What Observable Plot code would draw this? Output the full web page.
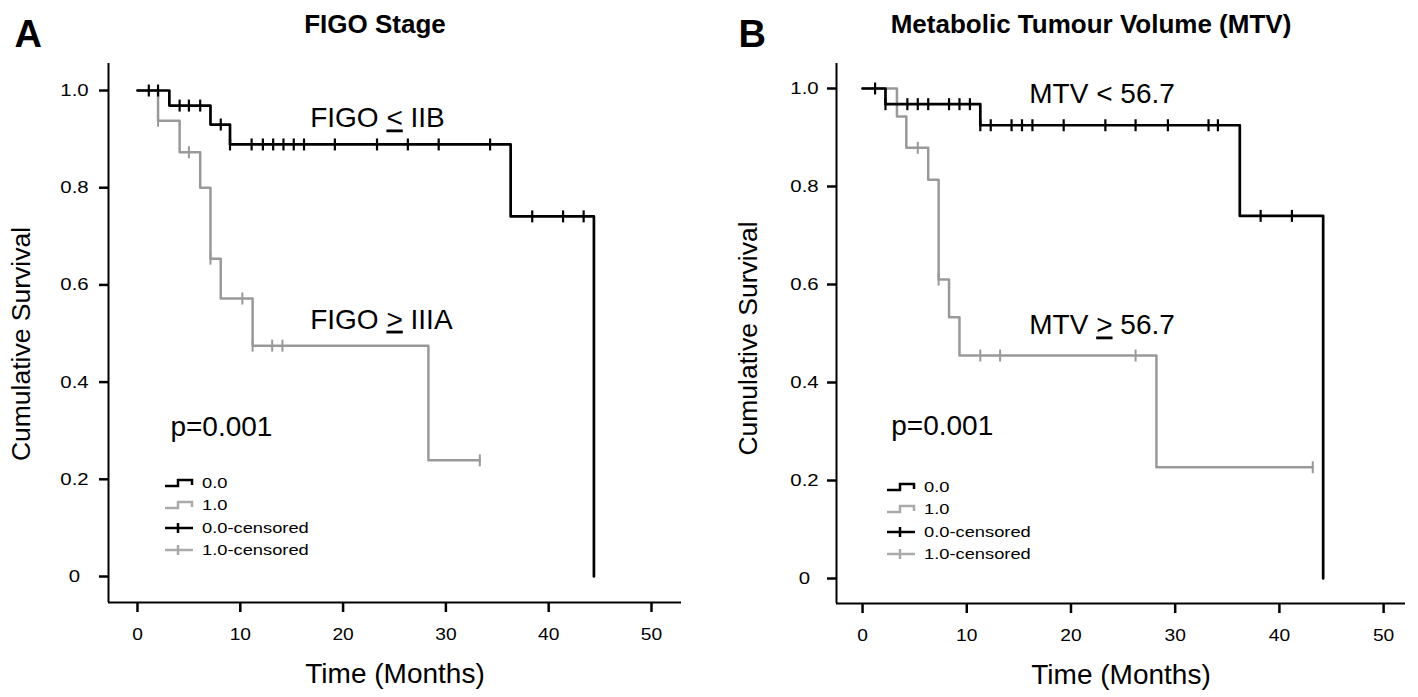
<!DOCTYPE html>
<html>
<head>
<meta charset="utf-8">
<script src="https://cdn.jsdelivr.net/npm/d3@7"></script>
<script src="https://cdn.jsdelivr.net/npm/@observablehq/plot@0.6"></script>
<style>
  html, body { margin: 0; padding: 0; background: #fff; }
  #wrap { position: relative; width: 1418px; height: 697px; display: flex; overflow: hidden; }
  .panel { position: relative; width: 709px; height: 697px; }
  .legend { position: absolute; font-family: "Liberation Sans", Arial, sans-serif; font-size: 15.5px; color: #000; }
  .legend .row { position: absolute; left: 0; height: 22px; display: flex; align-items: center; white-space: nowrap; }
  .legend .row span { display: inline-block; transform: scaleX(1.18); transform-origin: left center; margin-left: 9px; }
</style>
</head>
<body>
<div id="wrap"></div>
<script>
// ---------- data ----------
const timeTicks = [0, 10, 20, 30, 40, 50];
const survivalTicks = [0, 0.2, 0.4, 0.6, 0.8, 1.0];
const groupNames = ["0.0", "1.0"];
const legendLabels = ["0.0", "1.0", "0.0-censored", "1.0-censored"];
const panelLetters = ["A", "B"];
const panelTitles = ["FIGO Stage", "Metabolic Tumour Volume (MTV)"];
const xTitle = "Time (Months)";
const yTitle = "Cumulative Survival";

// Panel A: FIGO stage
const figoLowTime = [0, 3.1, 7.1, 9.0, 36.3, 44.4];
const figoLowSurv = [1.0, 0.969, 0.930, 0.889, 0.741, 0];
const figoLowCensor = [1.1, 2.0, 4.1, 5.0, 6.1, 8.1, 9.0, 11.1, 12.2, 13.2, 14.2, 15.2, 16.2, 19.2, 23.3, 26.3, 29.3, 34.3, 38.4, 41.4, 43.4];
const figoHighTime = [0, 2.0, 4.1, 6.1, 7.1, 8.1, 11.2, 28.3];
const figoHighSurv = [1.0, 0.938, 0.873, 0.800, 0.654, 0.572, 0.475, 0.239];
const figoHighCensor = [2.0, 5.0, 7.1, 10.2, 11.2, 13.1, 14.1, 33.3];
const figoLabels = ["FIGO ≤ IIB", "FIGO ≥ IIIA"];

// Panel B: metabolic tumour volume
const mtvLowTime = [0, 2.2, 11.3, 36.2, 44.2];
const mtvLowSurv = [1.0, 0.968, 0.925, 0.740, 0];
const mtvLowCensor = [1.2, 2.2, 4.3, 5.3, 6.3, 8.3, 9.3, 10.3, 11.3, 12.3, 14.3, 15.3, 16.3, 19.3, 23.3, 26.2, 29.3, 33.2, 34.1, 38.2, 41.2];
const mtvHighTime = [0, 3.3, 4.2, 6.3, 7.3, 8.3, 9.3, 28.2];
const mtvHighSurv = [1.0, 0.943, 0.879, 0.814, 0.610, 0.533, 0.455, 0.227];
const mtvHighCensor = [5.3, 7.3, 11.3, 13.2, 26.2, 43.2];
const mtvLabels = ["MTV < 56.7", "MTV ≥ 56.7"];

const pValueText = "p=0.001";

// ---------- helpers ----------
const colors = {"0.0": "#000000", "1.0": "#999999"};

function stepSeries(times, surv, censors, group) {
  const pts = times.map((t, i) => ({time: t, survival: surv[i], group}));
  const lastEvent = times[times.length - 1];
  const lastCensor = d3.max(censors);
  if (lastCensor > lastEvent) pts.push({time: lastCensor, survival: surv[surv.length - 1], group});
  return pts;
}
function censorPoints(times, surv, censors, group) {
  return censors.map(c => {
    let s = surv[0];
    for (let i = 0; i < times.length; i++) if (times[i] <= c + 1e-9) s = surv[i];
    return {time: c, survival: s, group};
  });
}
const censorSymbol = {
  draw(ctx, size) {
    const r = Math.sqrt(size / Math.PI);
    ctx.moveTo(0, -r);
    ctx.lineTo(0, r);
  }
};

const panels = [
  {
    letter: panelLetters[0], title: panelTitles[0],
    low: [figoLowTime, figoLowSurv, figoLowCensor],
    high: [figoHighTime, figoHighSurv, figoHighCensor],
    labels: figoLabels,
    layout: {
      ml: 108, mr: 28, mt: 63, mb: 95,
      xDomain: [-2.82, 52.92], yDomain: [-0.0535, 1.0556],
      labelPos: [[16.8, 0.924], [16.8, 0.510]], pPos: [3.2, 0.290],
      titleDx: -20, letterDx: -94, yTitleDx: -87, yTitleDy: 11,
      yTickDist: 34,
      legend: {left: 165, top: 472}
    }
  },
  {
    letter: panelLetters[1], title: panelTitles[1],
    low: [mtvLowTime, mtvLowSurv, mtvLowCensor],
    high: [mtvHighTime, mtvHighSurv, mtvHighCensor],
    labels: mtvLabels,
    layout: {
      ml: 127, mr: 13, mt: 63, mb: 94,
      xDomain: [-2.5, 52.1], yDomain: [-0.051, 1.051],
      labelPos: [[16.0, 0.970], [16.0, 0.498]], pPos: [2.75, 0.292],
      titleDx: -30, letterDx: -98, yTitleDx: -88, yTitleDy: 5,
      yTickDist: 32,
      legend: {left: 178, top: 476}
    }
  }
];

const FONT = "'Liberation Sans', Arial, Helvetica, sans-serif";
const NARROW = "'Liberation Sans Narrow', 'Arial Narrow', 'Liberation Sans', sans-serif";

function makePanel(p) {
  const L = p.layout;
  const lowLine = stepSeries(...p.low, groupNames[0]);
  const highLine = stepSeries(...p.high, groupNames[1]);
  const lowCens = censorPoints(...p.low, groupNames[0]);
  const highCens = censorPoints(...p.high, groupNames[1]);
  const annotations = p.labels.map((t, i) => ({text: t, x: L.labelPos[i][0], y: L.labelPos[i][1]}));
  annotations.push({text: pValueText, x: L.pPos[0], y: L.pPos[1]});

  const chart = Plot.plot({
    width: 709, height: 697,
    marginLeft: L.ml, marginRight: L.mr, marginTop: L.mt, marginBottom: L.mb,
    x: {domain: L.xDomain},
    y: {domain: L.yDomain},
    style: {fontFamily: FONT, background: "white", color: "black", overflow: "visible"},
    marks: [
      Plot.ruleX([L.xDomain[0]], {stroke: "black", strokeWidth: 2}),
      Plot.ruleY([L.yDomain[0]], {stroke: "black", strokeWidth: 2}),
      Plot.axisX({ticks: timeTicks, tickSize: 10, tickPadding: 16, fontSize: 16, label: null, strokeWidth: 2.5}),
      Plot.axisY({ticks: survivalTicks, tickFormat: d => d === 0 ? "0" : d.toFixed(1), tickSize: 9, tickPadding: L.yTickDist - 9, textAnchor: "middle", fontSize: 17, label: null, strokeWidth: 2.5}),
      Plot.line(highLine, {x: "time", y: "survival", curve: "step-after", stroke: colors["1.0"], strokeWidth: 2.5}),
      Plot.line(lowLine, {x: "time", y: "survival", curve: "step-after", stroke: colors["0.0"], strokeWidth: 2.7}),
      Plot.dot(highCens, {x: "time", y: "survival", symbol: censorSymbol, r: 6, stroke: colors["1.0"], strokeWidth: 2, fill: "none"}),
      Plot.dot(lowCens, {x: "time", y: "survival", symbol: censorSymbol, r: 6, stroke: colors["0.0"], strokeWidth: 2.2, fill: "none"}),
      Plot.text(annotations, {x: "x", y: "y", text: "text", textAnchor: "start", lineAnchor: "bottom", fontSize: 28, fill: "black", ariaLabel: "annotation"}),
      Plot.text([xTitle], {frameAnchor: "bottom", dy: 80, textAnchor: "middle", lineAnchor: "bottom", fontSize: 28, text: d => d, ariaLabel: "x-title"}),
      Plot.text([yTitle], {frameAnchor: "left", dx: L.yTitleDx, dy: L.yTitleDy, rotate: -90, textAnchor: "middle", lineAnchor: "middle", fontSize: 26.5, text: d => d, ariaLabel: "y-title"}),
      Plot.text([p.title], {frameAnchor: "top", dx: L.titleDx, dy: -49, textAnchor: "middle", fontSize: 26, fontWeight: "bold", fontFamily: NARROW, text: d => d, ariaLabel: "panel-title"}),
      Plot.text([p.letter], {frameAnchor: "top-left", dx: L.letterDx, dy: -43, textAnchor: "start", fontSize: 38, fontWeight: "bold", fontFamily: NARROW, text: d => d, ariaLabel: "panel-letter"})
    ]
  });

  // underline the < / > of ≤ and ≥ as in the original typesetting
  chart.querySelectorAll("text").forEach(t => {
    const s = t.textContent;
    if (t.children.length === 0 && /[≤≥]/.test(s)) {
      t.textContent = "";
      s.split(/([≤≥])/).forEach(part => {
        if (!part) return;
        const ts = document.createElementNS("http://www.w3.org/2000/svg", "tspan");
        if (part === "≤" || part === "≥") {
          ts.textContent = part === "≤" ? "<" : ">";
          ts.setAttribute("text-decoration", "underline");
          ts.style.textDecoration = "underline";
        } else ts.textContent = part;
        t.appendChild(ts);
      });
    }
  });

  // classify groups: axis tick labels / ticks and custom text marks
  function kindOf(g) {
    const a = g.getAttribute("aria-label") || "";
    if (a.startsWith("x-axis")) return "x-axis";
    if (a.startsWith("y-axis")) return "y-axis";
    return a;
  }

  // axis styling (font size, tick thickness)
  const axisFont = {"x-axis": 16, "y-axis": 17};
  chart.querySelectorAll("g[aria-label]").forEach(g => {
    const fs = axisFont[kindOf(g)];
    if (fs == null) return;
    g.querySelectorAll("text").forEach(t => { t.style.fontSize = fs + "px"; });
    g.querySelectorAll("path, line").forEach(el => { el.style.strokeWidth = "2.5px"; });
  });

  // the original figure is slightly stretched horizontally
  const stretch = {"x-axis": 1.2, "y-axis": 1.2, "annotation": 1.18, "x-title": 1.16, "y-title": 1.1};
  chart.querySelectorAll("g[aria-label]").forEach(g => {
    const k = stretch[kindOf(g)];
    if (k == null) return;
    g.querySelectorAll("text").forEach(t => {
      const tr = t.getAttribute("transform") || "";
      const rotated = /rotate/.test(tr);
      t.setAttribute("transform", `${tr} ${rotated ? `scale(1,${k})` : `scale(${k},1)`}`.trim());
      const ax = rotated ? "y" : "x";
      const v = t.getAttribute(ax);
      if (v != null && v !== "" && isFinite(+v)) t.setAttribute(ax, +v / k);
    });
  });

  const panel = document.createElement("div");
  panel.className = "panel";
  panel.appendChild(chart);

  // legend
  const lg = document.createElement("div");
  lg.className = "legend";
  lg.style.left = L.legend.left + "px";
  lg.style.top = L.legend.top + "px";
  const glyphs = [
    {c: colors["0.0"], step: true}, {c: "#aaaaaa", step: true},
    {c: colors["0.0"], step: false}, {c: "#aaaaaa", step: false}
  ];
  legendLabels.forEach((lab, i) => {
    const row = document.createElement("div");
    row.className = "row";
    row.style.top = (i * 22.3) + "px";
    const g = glyphs[i];
    const path = g.step ? "M0,9 H13 V3 H27 V8" : "M0,6 H28 M13,1 V11";
    row.innerHTML = `<svg width="28" height="12" style="overflow:visible"><path d="${path}" fill="none" stroke="${g.c}" stroke-width="2.5"/></svg><span>${lab}</span>`;
    lg.appendChild(row);
  });
  panel.appendChild(lg);
  return panel;
}

const wrap = document.getElementById("wrap");
panels.forEach(p => wrap.appendChild(makePanel(p)));
</script>
</body>
</html>
